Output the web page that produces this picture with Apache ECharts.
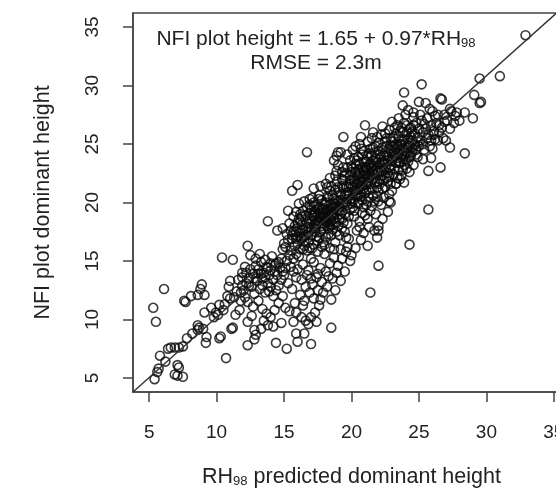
<!DOCTYPE html>
<html>
<head>
<meta charset="utf-8">
<script src="https://cdn.jsdelivr.net/npm/echarts@6/dist/echarts.min.js"></script>
<style>html,body{margin:0;padding:0;background:#fff}#c{width:556px;height:488px}</style>
</head>
<body>
<div id="c"></div>
<script>
// axis ticks and ranges
const tickValues = [5, 10, 15, 20, 25, 30, 35];
const xRange = [3.8, 36.2];
const yRange = [3.8, 36.2];
// reference line end points
const refLineX = [3.8, 35.2];
const refLineY = [3.8, 36.2];

// observed points [RH98 predicted, NFI plot dominant height]
const ptsBelow10 = [
[5.3,11.0],[5.5,9.8],[6.1,12.6],[5.4,4.9],[5.7,5.8],[5.6,5.5],[5.8,6.9],[6.4,7.5],[6.6,7.6],[6.9,7.6],
[7.2,7.6],[7.5,7.7],[7.8,8.4],[7.1,6.1],[7.2,5.9],[7.1,5.2],[7.5,5.1],[6.9,5.3],[8.2,8.8],[8.6,9.1],
[8.7,9.3],[9.0,9.2],[8.6,9.5],[9.2,8.0],[9.25,8.5],[9.1,10.6],[7.6,11.6],[8.1,12.0],[8.6,12.1],[8.9,13.0],
[9.1,12.1],[8.8,12.6],[9.6,11.0],[9.8,10.2],[7.7,11.5],[6.2,6.4]
];
const pts10to12 = [
[10.3,8.55],[10.2,8.4],[10.7,6.7],[11.2,9.3],[9.95,10.6],[10.2,11.25],[11.0,11.8],[11.4,10.4],[10.4,15.3],[11.2,15.1],
[11.1,9.2],[10.8,12.0],[10.6,11.3],[11.5,12.4],[11.8,11.6],[11.3,11.9],[10.9,12.8],[11.6,13.4],[11.9,14.0],[11.0,13.3],
[10.5,10.8],[10.1,10.4],[11.7,10.8],[11.9,12.9],[11.8,12.3],[12.1,11.9]
];
const pts12to15 = [
[12.3,16.3],[12.5,15.5],[12.9,15.2],[13.3,14.9],[13.6,15.1],[14.0,14.8],[14.3,14.6],[14.6,14.9],[14.8,15.2],[13.1,14.3],
[13.5,14.0],[13.9,13.8],[12.7,13.9],[12.4,13.5],[12.2,13.1],[12.0,12.5],[12.6,12.8],[13.0,13.3],[13.4,13.5],[13.8,13.1],
[14.2,13.4],[14.5,13.8],[14.9,14.1],[12.8,12.2],[13.2,12.6],[13.6,12.3],[14.0,12.8],[14.4,12.5],[12.3,11.5],[12.7,11.1],
[13.1,11.6],[13.4,10.9],[13.7,10.5],[14.0,10.2],[13.5,9.9],[13.8,9.5],[12.6,10.3],[12.3,9.8],[12.8,9.1],[12.3,7.8],
[12.8,8.3],[12.9,8.7],[14.4,8.0],[15.2,7.5],[14.6,11.4],[14.9,12.0],[13.2,15.6],[14.1,15.4],[12.1,14.5],[11.9,13.6],
[13.7,14.5],[14.3,14.1],[13.8,18.4],
[12.2,14.0],[12.5,14.3],[12.9,14.6],[13.3,13.9],[13.6,13.6],[14.0,14.2],[14.4,14.8],[14.7,14.4],[12.4,12.9],[12.9,13.5],
[13.4,12.9],[13.9,12.4],[14.2,12.0],[14.6,12.9],[13.1,13.9],[13.8,14.4],[14.8,13.4],[15.0,13.8],[14.8,9.7],[14.3,10.8],
[13.3,9.2],[14.2,9.4]
];
const pts15to17 = [
[14.5,17.6],[14.9,17.8],[15.2,17.3],[15.0,16.5],[15.4,18.2],[15.6,16.9],[15.9,17.5],[16.0,18.3],[16.3,17.0],[16.5,16.3],
[16.6,17.8],[16.9,18.6],[16.2,19.0],[16.7,19.6],[16.5,20.1],[16.9,20.3],[17.2,20.0],[15.5,15.9],[15.9,15.6],[16.2,16.0],
[16.8,16.6],[15.2,15.0],[14.9,16.0],[15.6,21.0],[16.0,21.5],[16.7,24.3],[16.1,19.9],[15.7,18.8],[15.3,19.3],
[15.3,13.1],[15.6,12.6],[15.9,13.6],[16.2,12.1],[16.5,11.6],[15.8,11.4],[15.4,10.7],[15.9,10.6],[16.3,10.2],[16.6,9.9],
[16.8,9.6],[17.0,10.2],[16.5,8.8],[15.9,8.8],[16.0,8.1],[17.0,7.9],[16.6,12.8],[17.0,13.5],[16.9,12.3],[17.2,11.8],
[17.5,12.5],[17.6,11.2],[17.3,10.6],[17.7,11.7],[15.1,14.4],[15.7,14.1],[16.4,14.7],[16.8,14.2],[17.2,14.9],
[15.1,16.2],[15.3,16.8],[15.5,17.6],[15.8,18.0],[16.1,18.6],[16.3,18.1],[16.6,18.9],[16.9,19.8],[17.1,20.4],[15.6,17.2],
[15.9,16.9],[16.2,17.4],[16.5,17.1],[16.8,17.9],[17.2,18.7],[15.4,15.5],[15.7,15.2],[16.0,16.5],[16.4,16.0],[16.9,16.1],
[15.5,14.5],[16.0,14.3],[16.3,13.4],[16.7,13.8],[17.1,13.0],[16.4,11.2],[15.7,9.8],[17.4,9.8],[15.1,11.0],
[16.3,16.9],[16.0,17.8],[15.7,17.5],[16.3,18.8],[15.9,19.2]
];
const pts17to20 = [
[17.0,17.2],[17.3,17.8],[17.5,18.4],[17.7,19.0],[17.9,19.5],[17.4,19.8],[17.8,20.2],[18.1,20.0],[18.3,19.2],[18.0,18.6],
[18.2,18.0],[18.5,18.8],[18.7,19.6],[18.9,20.2],[18.6,20.6],[18.4,21.0],[19.0,21.3],[19.2,20.7],[19.4,20.0],[19.1,19.3],
[19.5,19.0],[19.7,19.8],[19.8,20.6],[19.6,21.4],[19.3,22.0],[19.9,21.9],[18.8,22.3],[19.0,23.2],[18.7,23.6],[19.2,24.3],
[18.9,24.0],[17.6,17.0],[17.9,16.6],[18.3,17.3],[18.6,17.7],[18.9,18.3],[19.3,18.6],[19.7,18.2],[17.2,16.4],[17.5,15.8],
[18.0,15.6],[18.4,16.1],[18.8,16.6],[19.1,17.2],[19.5,17.5],[19.8,16.9],[17.1,18.9],[17.6,20.6],[18.2,21.3],[17.0,19.4],
[17.3,18.2],[18.5,19.9],[18.3,20.4],[17.8,18.0],[18.1,17.0],[19.6,22.5],[19.4,23.0],[19.9,23.6],[18.4,14.8],[18.7,15.3],
[19.0,14.6],[19.3,15.2],[19.9,15.0],[19.5,14.1],[18.6,13.5],[18.2,12.8],[17.9,12.3],[18.5,11.7],[18.5,9.3],[19.2,16.0],
[19.7,16.2],[17.7,14.4],[18.1,14.1],[17.4,13.6],[19.4,25.6],
[17.3,19.0],[17.6,19.6],[17.9,19.1],[18.2,19.4],[18.4,18.6],[18.7,18.9],[18.9,19.7],[19.2,19.9],[19.5,20.6],[19.8,21.3],
[18.1,21.6],[18.5,21.4],[18.9,21.8],[19.3,22.6],[19.7,23.0],[17.6,18.4],[17.9,17.8],[18.2,18.3],[18.6,18.1],[19.0,18.0],
[19.4,18.3],[19.8,18.8],[17.4,17.1],[17.8,16.2],[18.5,17.2],[18.9,17.5],[19.3,17.8],[19.6,17.0],[18.0,16.4],[18.7,16.0],
[17.5,13.9],[17.8,13.2],[18.3,13.7],[18.9,14.0],[19.2,13.3],[19.6,15.8],[18.8,12.5],
[17.2,21.2],[17.7,21.4],[18.4,22.1],[18.9,22.7],[19.0,24.3],[19.7,24.1],
[17.8,19.4],[18.1,19.1],[18.3,18.9],[18.6,19.1],[18.8,19.9],[19.0,19.4],[17.5,19.4],[17.2,18.9],[16.9,18.2],[16.6,17.2],
[17.0,17.8],[17.6,18.7],[18.1,18.4],[18.4,18.1],[18.7,18.6],[19.2,19.0],[19.1,20.9],[19.4,21.2],[19.6,20.8],[19.9,21.6],
[19.5,22.3]
];
const pts20to22 = [
[20.0,20.3],[20.2,21.0],[20.4,21.6],[20.6,22.2],[20.3,22.6],[20.8,21.4],[21.0,20.8],[21.2,21.7],[21.4,22.4],[21.1,23.0],
[20.9,23.5],[20.5,23.9],[21.3,24.2],[21.6,23.6],[21.8,22.8],[21.5,21.2],[21.9,21.8],[20.1,19.6],[20.5,19.9],[20.8,20.2],
[21.3,20.4],[21.7,20.1],[20.2,18.8],[20.6,18.4],[21.0,18.9],[21.4,19.3],[21.8,19.0],[20.4,17.6],[20.9,17.4],[21.3,17.9],
[21.7,17.6],[22.0,18.0],[21.9,17.0],[20.7,16.8],[21.2,16.3],[20.3,16.1],[20.0,15.5],[22.0,20.1],[22.2,19.8],[20.7,24.6],
[21.2,25.2],[21.5,25.5],[21.0,26.6],[20.6,25.0],[20.1,24.5],[21.9,25.6],[22.0,24.4],[20.1,22.9],[20.7,20.8],[21.6,22.0],
[21.0,22.0],[20.4,20.5],[22.0,14.6],[21.4,12.3],[22.8,20.1],
[20.1,21.4],[20.3,20.7],[20.5,21.1],[20.7,21.9],[20.9,22.4],[21.1,21.5],[21.3,22.1],[21.5,23.0],[21.7,22.4],[21.9,23.4],
[20.2,22.0],[20.6,22.5],[21.0,23.0],[21.4,23.3],[21.8,23.8],[20.3,23.3],[20.8,23.0],[21.2,22.8],[21.6,24.7],[22.0,22.6],
[20.5,20.0],[20.9,19.6],[21.2,20.1],[21.6,20.6],[21.9,20.5],[20.2,19.3],[20.8,19.1],[21.5,19.7],[20.6,17.9],[21.2,18.6],
[20.3,24.8],[20.7,25.6],[21.6,26.0],
[20.2,21.8],[20.4,22.3],[20.6,21.7],[20.9,22.7],[21.2,22.3],[21.3,23.2],[21.6,22.7],[21.8,23.5],[21.7,21.7],[21.1,21.0],
[20.5,20.6],[20.0,19.9],[20.0,23.1],[20.4,23.6],[20.9,24.4],[21.5,24.0],[22.0,25.1],[22.0,21.0]
];
const pts22to25 = [
[22.1,21.6],[22.3,22.3],[22.5,23.0],[22.7,23.6],[22.4,24.0],[22.9,24.4],[23.1,23.8],[23.3,24.6],[23.0,25.2],[23.5,25.6],
[23.7,24.9],[23.9,25.4],[24.1,26.0],[24.3,25.1],[24.0,24.2],[23.6,23.4],[23.2,22.9],[22.8,22.2],[23.4,22.1],[23.8,22.8],
[24.2,23.5],[24.5,24.3],[24.7,25.0],[24.4,26.4],[24.8,26.8],[24.6,27.3],[23.9,26.8],[23.4,26.6],[22.6,25.5],[22.2,25.8],
[22.8,26.2],[22.5,21.3],[23.0,21.0],[23.3,21.6],[23.9,21.7],[23.7,22.3],[24.3,22.6],[24.6,23.2],[24.9,23.9],[22.4,20.4],
[22.9,20.0],[22.7,19.2],[22.3,18.6],[22.0,17.6],[22.8,20.7],[24.0,27.5],[24.5,24.7],[23.2,24.0],[22.6,24.8],[24.9,25.6],
[24.2,24.9],[24.3,16.4],[23.3,21.6],
[22.2,22.7],[22.4,23.4],[22.6,22.1],[22.8,23.0],[23.0,23.6],[23.2,24.3],[23.4,24.8],[23.6,24.5],[23.8,23.7],[24.0,25.0],
[24.2,25.4],[24.4,24.0],[24.6,25.7],[24.8,24.5],[22.3,21.2],[22.7,21.8],[23.1,22.4],[23.5,22.8],[23.9,23.2],[24.3,23.9],
[22.5,24.3],[22.9,25.5],[23.3,25.9],[23.7,26.4],[24.1,26.6],[22.1,23.0],[23.6,25.0],[24.5,26.0],[24.9,25.2],[25.0,26.3],
[22.3,26.5],[23.0,26.9],[23.5,27.2],[24.2,27.9],
[22.1,24.1],[22.3,23.5],[22.6,24.0],[22.8,24.6],[23.1,24.8],[23.3,23.4],[23.5,24.2],[23.8,24.6],[24.0,23.7],[24.2,24.7],
[24.5,25.3],[24.7,25.9],[22.4,22.8],[22.9,22.8],[23.4,23.8],[23.9,24.0],[22.4,21.9],[22.9,21.6],[23.6,22.0],[24.1,22.9],
[24.8,24.1],[22.5,25.9],[23.2,26.4],[23.8,26.0],[24.6,26.6]
];
const pts25up = [
[25.1,25.3],[25.3,26.0],[25.5,26.3],[25.7,25.8],[25.9,26.6],[25.2,27.0],[25.6,27.2],[26.1,26.1],[26.3,26.8],[26.5,26.0],
[26.2,25.4],[25.8,24.8],[25.4,24.5],[25.0,24.8],[25.3,23.7],[26.0,24.6],[26.4,25.3],[26.7,26.4],[26.9,27.5],[27.1,27.0],
[27.4,27.8],[27.7,27.4],[26.8,25.5],[27.0,25.3],[27.3,24.7],[26.6,23.0],[25.7,22.7],[25.9,23.8],[25.1,27.5],[24.6,27.7],
[25.5,28.5],[26.7,28.8],[26.6,28.9],[27.3,28.0],[27.8,27.7],[28.4,27.7],[28.4,24.2],[25.2,30.1],[23.9,29.4],[23.8,28.3],
[25.7,19.4],[26.2,27.4],[26.0,27.8],[29.0,27.2],[29.1,29.2],[29.5,28.5],[29.6,28.6],[29.5,30.6],[31.0,30.8],[32.9,34.3],
[25.0,28.6],[25.8,28.0],[26.4,27.5],[26.9,26.9],[27.3,26.3],[27.6,26.8],[28.0,27.0],
[25.3,25.0],[25.6,25.5],[25.9,25.3],[26.1,25.8],[26.5,26.6],[25.4,26.7]
];
const ptsCore = [
[16.4,17.6],[16.7,18.3],[17.1,18.4],[17.3,19.2],[17.7,19.1],[18.0,19.9],[18.2,20.5],[18.7,20.3],[18.8,21.1],[19.3,21.4],
[19.4,21.9],[19.9,22.3],[20.0,22.6],[20.5,22.8],[20.6,23.3],[21.1,23.5],[21.2,24.0],[21.7,24.3],[21.8,24.8],[22.3,24.7],
[16.5,16.7],[16.8,17.4],[17.3,17.5],[17.4,18.0],[17.9,18.2],[18.0,18.8],[18.5,19.0],[18.6,19.5],[19.1,19.6],[19.2,20.2],
[19.7,20.3],[19.8,20.9],[20.3,21.0],[20.4,21.6],[20.9,21.8],[21.0,22.5],[21.5,22.6],[21.6,23.2],[22.1,23.3],[22.2,23.9],
[17.1,16.1],[17.5,16.7],[17.7,17.5],[18.3,17.8],[18.5,18.4],[19.1,18.6],[19.3,19.2],[19.9,19.4],[20.1,20.1],[20.7,20.5],
[21.1,19.8],[21.3,21.1],[21.9,21.3],[22.1,22.0],[22.7,22.5],[22.9,23.2],[23.5,23.4],[23.7,24.1],[24.1,24.3],[24.7,24.9],
[20.2,23.8],[20.8,24.1],[21.4,24.6],[22.5,25.2],[23.1,25.5],[23.6,26.1],[24.3,26.3],[22.9,24.9],[23.3,25.0],[23.8,25.2],
[24.4,25.6],[22.7,23.9],[21.9,22.5],[21.4,21.6],[20.9,21.2],[20.6,21.3],[19.6,20.0],[19.0,20.1],[18.4,19.5],[17.9,18.7],
[16.2,18.4],[16.4,19.3],[16.9,19.1],[17.2,19.7],[17.6,20.3],[16.0,17.1],[15.8,16.3],[16.1,15.4],[16.7,15.9],[17.0,15.2]
];

const allPoints = [].concat(ptsBelow10, pts10to12, pts12to15, pts15to17, pts17to20, pts20to22, pts22to25, pts25up, ptsCore);

const FONT = '"Liberation Sans", Arial, Helvetica, sans-serif';
const INK = '#222';
const AX = '#444';
const TICK_LEN = 10;

const chart = echarts.init(document.getElementById('c'), null, {renderer: 'canvas'});
chart.setOption({
  animation: false,
  backgroundColor: '#fff',
  title: [
    {text: 'NFI plot height = 1.65 + 0.97*RH{s|98}', left: 311, top: 23, textAlign: 'center',
     textStyle: {fontFamily: FONT, fontSize: 21, fontWeight: 'normal', color: INK,
       rich: {s: {fontFamily: FONT, fontSize: 13, color: INK, padding: [9,0,0,0]}}}},
    {text: 'RMSE = 2.3m', left: 311, top: 48, textAlign: 'center',
     textStyle: {fontFamily: FONT, fontSize: 21, fontWeight: 'normal', color: INK}}
  ],
  grid: {left: 133, top: 13, width: 437, height: 379, show: true, borderColor: AX, borderWidth: 1.5,
         backgroundColor: 'transparent', outerBoundsMode: 'none'},
  xAxis: {
    type: 'value', min: xRange[0], max: xRange[1],
    axisLine: {show: true, lineStyle: {color: AX, width: 1.5}},
    axisTick: {show: true, customValues: tickValues, length: TICK_LEN, lineStyle: {color: AX, width: 1.5}},
    axisLabel: {customValues: tickValues, fontFamily: FONT, fontSize: 19, color: INK, margin: 31},
    splitLine: {show: false},
    name: 'RH{s|98} predicted dominant height', nameLocation: 'middle', nameGap: 74,
    nameTextStyle: {fontFamily: FONT, fontSize: 21.5, color: INK,
      rich: {s: {fontFamily: FONT, fontSize: 13, color: INK, padding: [9,0,0,0]}}}
  },
  yAxis: {
    type: 'value', min: yRange[0], max: yRange[1],
    axisLine: {show: true, lineStyle: {color: AX, width: 1.5}},
    axisTick: {show: true, customValues: tickValues, length: TICK_LEN, lineStyle: {color: AX, width: 1.5}},
    axisLabel: {customValues: tickValues, fontFamily: FONT, fontSize: 19, color: INK, rotate: 90, margin: 31},
    splitLine: {show: false},
    name: 'NFI plot dominant height', nameLocation: 'middle', nameRotate: 90, nameGap: 79,
    nameTextStyle: {fontFamily: FONT, fontSize: 21.5, color: INK}
  },
  series: [
    {type: 'scatter', data: allPoints, symbol: 'circle', symbolSize: 9,
     itemStyle: {color: 'rgba(0,0,0,0)', borderColor: '#0a0a0a', borderWidth: 1.6}, silent: true},
    {type: 'line', data: [[refLineX[0], refLineY[0]], [refLineX[1], refLineY[1]]], symbol: 'none', clip: true,
     lineStyle: {color: '#333', width: 1.4}, silent: true}
  ]
});
</script>
</body>
</html>
